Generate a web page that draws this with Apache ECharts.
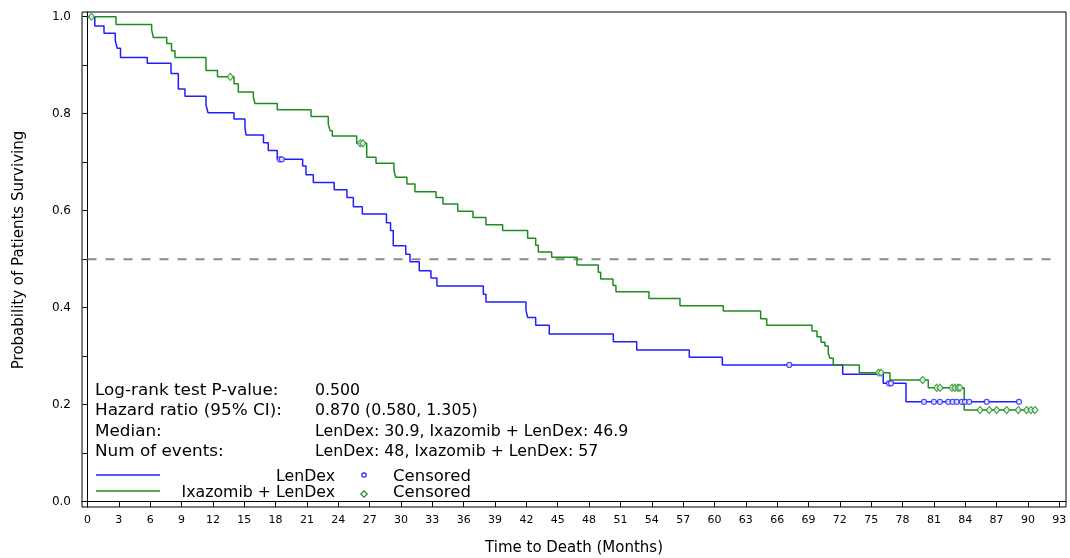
<!DOCTYPE html>
<html>
<head>
<meta charset="utf-8">
<script src="https://cdn.jsdelivr.net/npm/echarts@6/dist/echarts.min.js"></script>
<style>
html,body{margin:0;padding:0;background:#fff;}
#chart{width:1070px;height:558px;}
</style>
</head>
<body>
<div id="chart"></div>
<script>
// ---- Data ----
const lenDexTimes = [0, 0.70, 1.58, 2.66, 2.85, 3.16, 5.72, 7.99, 8.69, 9.33, 11.34, 11.53, 14.02, 15.07, 15.17, 16.84, 17.30, 18.16, 20.59, 20.91, 21.61, 23.61, 24.83, 25.44, 26.30, 28.61, 29.00, 29.26, 30.46, 30.86, 31.75, 32.87, 33.44, 37.88, 38.13, 41.96, 42.12, 42.89, 44.19, 50.32, 52.56, 57.59, 60.75, 72.27, 76.15, 78.33, 89.2];
const lenDexSurv  = [1.000, 0.981, 0.966, 0.950, 0.935, 0.916, 0.904, 0.883, 0.851, 0.836, 0.818, 0.802, 0.789, 0.772, 0.756, 0.740, 0.724, 0.706, 0.692, 0.674, 0.658, 0.643, 0.627, 0.608, 0.593, 0.575, 0.559, 0.528, 0.510, 0.495, 0.476, 0.461, 0.445, 0.428, 0.412, 0.395, 0.380, 0.364, 0.346, 0.330, 0.313, 0.298, 0.282, 0.263, 0.244, 0.206, 0.206];
const lenDexCensored = [18.4, 18.6, 67.16, 76.7, 76.9, 80.05, 81.0, 81.58, 82.37, 82.79, 83.18, 83.66, 83.97, 84.38, 86.05, 89.14];

const ixaTimes = [0, 2.73, 6.14, 6.30, 7.58, 8.04, 8.37, 11.34, 12.44, 14.02, 14.43, 15.87, 16.03, 18.16, 21.39, 23.04, 23.21, 23.43, 25.76, 26.72, 27.61, 29.33, 29.49, 30.57, 31.34, 33.35, 34.02, 35.43, 36.89, 38.13, 39.73, 42.12, 42.89, 43.14, 44.42, 46.84, 48.88, 49.11, 50.29, 50.57, 53.73, 56.70, 60.84, 64.42, 65.00, 69.33, 69.81, 70.19, 70.57, 70.89, 71.05, 71.37, 73.86, 76.79, 80.46, 83.90, 90.67];
const ixaSurv  = [1.000, 0.984, 0.973, 0.957, 0.945, 0.930, 0.916, 0.889, 0.876, 0.862, 0.845, 0.834, 0.821, 0.808, 0.794, 0.779, 0.765, 0.754, 0.739, 0.710, 0.698, 0.683, 0.669, 0.655, 0.639, 0.627, 0.614, 0.599, 0.586, 0.571, 0.559, 0.543, 0.529, 0.515, 0.504, 0.488, 0.473, 0.459, 0.446, 0.433, 0.419, 0.404, 0.393, 0.377, 0.364, 0.352, 0.340, 0.329, 0.321, 0.306, 0.296, 0.282, 0.266, 0.251, 0.235, 0.189, 0.189];
const ixaCensored = [0.38, 13.67, 26.1, 26.35, 75.7, 75.95, 79.92, 81.26, 81.58, 82.73, 83.01, 83.30, 83.49, 85.41, 86.30, 87.00, 87.96, 89.07, 89.87, 90.29, 90.67];

const xTicks = [0,3,6,9,12,15,18,21,24,27,30,33,36,39,42,45,48,51,54,57,60,63,66,69,72,75,78,81,84,87,90,93];
const yTickValues  = [0,0.1,0.2,0.3,0.4,0.5,0.6,0.7,0.8,0.9,1.0];
const yLabelValues = [0,0.2,0.4,0.6,0.8,1.0];
const medianLevel = 0.5;
const medianLineRange = [0, 93];

const statLabels = ['Log-rank test P-value:', 'Hazard ratio (95% CI):', 'Median:', 'Num of events:'];
const statValues = ['0.500', '0.870 (0.580, 1.305)', 'LenDex: 30.9, Ixazomib + LenDex: 46.9', 'LenDex: 48, Ixazomib + LenDex: 57'];
const groupNames = ['LenDex', 'Ixazomib + LenDex'];
const censoredLabel = 'Censored';

// ---- Build ----
const BLUE = '#1f1fff', GREEN = '#1f8c1f';
const FONT = 'DejaVu Sans';
const TXT = '15px "' + FONT + '"';
function pairs(t, s){ return t.map((v,i)=>[v, s[i]]); }
function stepAt(t, s, x){ let v = s[0]; for (let i=0;i<t.length;i++){ if (t[i] <= x) v = s[i]; } return v; }

const chart = echarts.init(document.getElementById('chart'), null, {renderer:'canvas'});

const textEls = [];
statLabels.forEach((lab, i) => {
  const y = [391, 411, 432, 452][i];
  textEls.push({type:'text', x:95, y:y, scaleX:1.12, style:{text:lab, font:TXT, fill:'#000', verticalAlign:'middle'}});
  textEls.push({type:'text', x:315, y:y, scaleX:1.05, style:{text:statValues[i], font:TXT, fill:'#000', verticalAlign:'middle'}});
});
// legend rows
const legY = [475, 491];
const legColors = [BLUE, GREEN];
legY.forEach((y, i) => {
  textEls.push({type:'line', shape:{x1:96, y1:y, x2:160, y2:y}, style:{stroke:legColors[i], lineWidth:1.5}});
  textEls.push({type:'text', x:335, y:y+2, scaleX:1.05, style:{text:groupNames[i], font:TXT, fill:'#000', align:'right', verticalAlign:'middle'}});
  textEls.push({type:'text', x:393, y:y+2, scaleX:1.1, style:{text:censoredLabel, font:TXT, fill:'#000', align:'left', verticalAlign:'middle'}});
});
textEls.push({type:'circle', shape:{cx:364, cy:legY[0], r:2.2}, style:{stroke:BLUE, fill:'#fff', lineWidth:1.2}});
textEls.push({type:'polygon', shape:{points:[[364,legY[1]-0.2],[367.2,legY[1]+3],[364,legY[1]+6.2],[360.8,legY[1]+3]]}, style:{stroke:GREEN, fill:'#fff', lineWidth:1.2}});
// y-axis title
textEls.push({type:'text', x:19, y:250, rotation:Math.PI/2, style:{text:'Probability of Patients Surviving', font:TXT, fill:'#000', align:'center', verticalAlign:'middle'}});

const option = {
  animation:false,
  backgroundColor:'#fff',
  grid:{left:82, top:12, right:4, bottom:51, show:true, borderColor:'#000', borderWidth:1, backgroundColor:'transparent', containLabel:false, outerBoundsMode:'none'},
  xAxis:{
    type:'value', min:-0.526, max:93.64,
    name:'Time to Death (Months)', nameLocation:'middle', nameGap:34,
    nameTextStyle:{fontFamily:FONT, fontSize:15, color:'#000'},
    axisLine:{show:true, lineStyle:{color:'#000', width:1}},
    axisTick:{show:true, customValues:xTicks, length:5, lineStyle:{color:'#000'}},
    axisLabel:{customValues:xTicks, color:'#000', fontFamily:FONT, fontSize:11, margin:8},
    splitLine:{show:false}
  },
  yAxis:{
    type:'value', min:-0.0109, max:1.0097,
    axisLine:{show:true, lineStyle:{color:'#000', width:1}},
    axisTick:{show:true, customValues:yTickValues, length:5, lineStyle:{color:'#000'}},
    axisLabel:{customValues:yLabelValues, color:'#000', fontFamily:FONT, fontSize:12, margin:11, formatter:v=>v.toFixed(1)},
    splitLine:{show:false}
  },
  graphic:{elements:textEls},
  series:[
    {type:'line', name:'median', data:medianLineRange.map(x=>[x, medianLevel]), symbol:'none',
     lineStyle:{color:'#8a8a8a', width:2, type:[9,9]}, z:1, silent:true},
    {type:'line', name:groupNames[0], data:pairs(lenDexTimes, lenDexSurv), step:'end', symbol:'none',
     lineStyle:{color:BLUE, width:1.5}, z:2},
    {type:'line', name:groupNames[1], data:pairs(ixaTimes, ixaSurv), step:'end', symbol:'none',
     lineStyle:{color:GREEN, width:1.5}, z:3},
    {type:'scatter', name:'LenDex censored', data:lenDexCensored.map(t=>[t, stepAt(lenDexTimes, lenDexSurv, t)]),
     symbol:'circle', symbolSize:5, itemStyle:{color:'#fff', borderColor:BLUE, borderWidth:1.2}, z:4},
    {type:'scatter', name:'Ixa censored', data:ixaCensored.map(t=>[t, stepAt(ixaTimes, ixaSurv, t)]),
     symbol:'diamond', symbolSize:[6,7], itemStyle:{color:'#fff', borderColor:GREEN, borderWidth:1.2}, z:5}
  ]
};
chart.setOption(option);
</script>
</body>
</html>
